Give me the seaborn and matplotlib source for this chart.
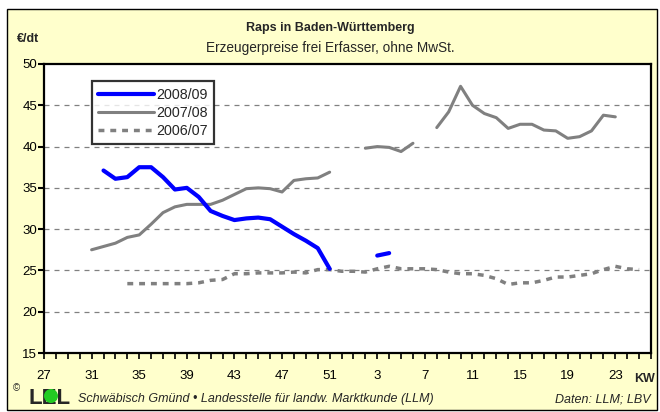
import numpy as np
import pandas as pd
import matplotlib
matplotlib.use('Agg')
import matplotlib.pyplot as plt
from matplotlib.lines import Line2D
from matplotlib.patches import Rectangle, Ellipse
import seaborn as sns

nan = np.nan

# calendar weeks on the category axis (KW 27 .. 52, then 1 .. 26)
weeks = list(range(27, 53)) + list(range(1, 27))

# prices in EUR/dt (nan = no quote)
price_0809 = ([nan] * 5
              + [37.1, 36.1, 36.3, 37.5, 37.5, 36.3, 34.8, 35.0, 33.9, 32.2,
                 31.6, 31.1, 31.3, 31.4, 31.2, 30.3, 29.4, 28.6, 27.7, 25.2]
              + [nan] * 3
              + [26.8, 27.1]
              + [nan] * 22)
price_0708 = ([nan] * 4
              + [27.5, 27.9, 28.3, 29.0, 29.3, 30.6, 32.0, 32.7, 33.0, 33.0,
                 33.0, 33.5, 34.2, 34.9, 35.0, 34.9, 34.5, 35.9, 36.1, 36.2, 36.9]
              + [nan] * 2
              + [39.8, 40.0, 39.9, 39.4, 40.4]
              + [nan]
              + [42.3, 44.2, 47.3, 45.0, 44.0, 43.5, 42.2, 42.7, 42.7, 42.0,
                 41.9, 41.0, 41.2, 41.9, 43.8, 43.6]
              + [nan] * 3)
price_0607 = ([nan] * 7
              + [23.4, 23.4, 23.4, 23.4, 23.4, 23.4, 23.5, 23.8, 23.9, 24.6,
                 24.6, 24.7, 24.7, 24.7, 24.8, 24.7, 25.1, 25.1, 24.9, 24.9,
                 24.8, 25.2, 25.5, 25.2, 25.2, 25.2, 25.1, 24.8, 24.6, 24.6,
                 24.4, 24.0, 23.3, 23.5, 23.5, 23.8, 24.2, 24.2, 24.4, 24.6,
                 25.1, 25.5, 25.2, 25.1]
              + [nan])

seasons = ['2008/09', '2007/08', '2006/07']
series = [price_0809, price_0708, price_0607]

# long table, with a segment id so gaps stay gaps
rows = []
for name, vals in zip(seasons, series):
    seg = 0
    prev_nan = True
    for i, v in enumerate(vals):
        if np.isnan(v):
            prev_nan = True
            continue
        if prev_nan:
            seg += 1
        prev_nan = False
        rows.append({'idx': i, 'price': v, 'season': name, 'seg': seg})
df = pd.DataFrame(rows)

sns.set_style('white')
plt.rcParams['font.family'] = ['Liberation Sans', 'DejaVu Sans']

fig = plt.figure(figsize=(6.6, 4.12), dpi=100, facecolor='white')
# yellow chart area with thin black frame
fig.patches.append(Rectangle((7 / 660, 1 - 410 / 412), 650 / 660, 401 / 412,
                             transform=fig.transFigure, facecolor='#FFFFCC',
                             edgecolor='black', lw=1, zorder=-10))

ax = fig.add_axes([44 / 660, 1 - 353 / 412, 607 / 660, 289 / 412])
ax.set_facecolor('white')

styles = {
    '2008/09': dict(color='#0000FF', lw=3.0, linestyle='-'),
    '2007/08': dict(color='#808080', lw=2.2, linestyle='-'),
    '2006/07': dict(color='#808080', lw=2.5, linestyle=(0, (1.7, 1.7))),
}
for name in seasons[::-1]:
    sub = df[df['season'] == name]
    sns.lineplot(data=sub, x='idx', y='price', units='seg', estimator=None,
                 sort=False, ax=ax, legend=False, zorder=3, **styles[name])

ax.set_xlim(0, 51)
ax.set_ylim(15, 50)
ax.set_yticks(range(15, 51, 5))
ax.set_xticks(range(len(weeks)))
ax.set_xticklabels([str(w) if i % 4 == 0 else '' for i, w in enumerate(weeks)])
ax.set_xlabel('')
ax.set_ylabel('')

for y in range(20, 50, 5):
    ax.axhline(y, color='#808080', lw=0.9, linestyle=(0, (4, 4)), zorder=1)

for s in ax.spines.values():
    s.set_visible(True)
    s.set_color('black')
    s.set_linewidth(1.6)

ax.tick_params(axis='y', direction='out', length=4, width=1.5, pad=1,
               labelsize=9.5, left=True, colors='black')
ax.tick_params(axis='x', direction='out', length=4, width=1.2, pad=8,
               labelsize=9.5, bottom=True, colors='black')

handles = [Line2D([], [], **styles[n]) for n in seasons]
leg = ax.legend(handles, seasons, loc='upper left',
                bbox_to_anchor=(0.079, 0.94), frameon=True, fancybox=False,
                handlelength=3.9, handletextpad=0.15, borderpad=0.45,
                labelspacing=0.28, fontsize=10.3, borderaxespad=0)
leg.get_frame().set_edgecolor('black')
leg.get_frame().set_linewidth(1.6)

# titles and labels
fig.text(0.5, 1 - 28 / 412, 'Raps in Baden-Württemberg', ha='center',
         va='center', fontsize=9, fontweight='bold')
fig.text(0.5, 1 - 48 / 412, 'Erzeugerpreise frei Erfasser, ohne MwSt.',
         ha='center', va='center', fontsize=9.8)
fig.text(17 / 660, 1 - 39 / 412, '€/dt', ha='left', va='center',
         fontsize=9, fontweight='bold')
fig.text(655 / 660, 1 - 379 / 412, 'KW', ha='right', va='center',
         fontsize=9, fontweight='bold')

# footer with LEL logo
fig.text(13 / 660, 1 - 388 / 412, '©', ha='left', va='center', fontsize=7)
fig.text(29 / 660, 1 - 404 / 412, 'LEL', ha='left', va='baseline',
         fontsize=16, fontweight='bold')
fig.patches.append(Ellipse((51 / 660, 1 - 396 / 412), 14 / 660, 14 / 412,
                           transform=fig.transFigure, facecolor='#22CC22',
                           edgecolor='none', zorder=5))
fig.text(78 / 660, 1 - 399 / 412,
         'Schwäbisch Gmünd • Landesstelle für landw. Marktkunde (LLM)',
         ha='left', va='center', fontsize=9, style='italic')
fig.text(651 / 660, 1 - 399 / 412, 'Daten: LLM; LBV', ha='right',
         va='center', fontsize=9, style='italic')

fig.savefig('out.png', dpi=100, facecolor=fig.get_facecolor())
